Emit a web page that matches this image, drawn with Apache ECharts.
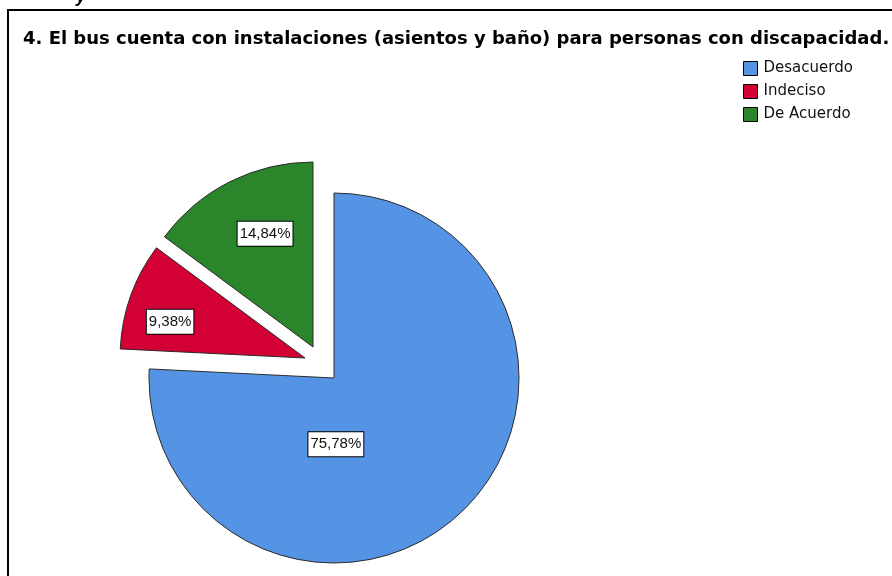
<!DOCTYPE html>
<html>
<head>
<meta charset="utf-8">
<title>El bus cuenta con instalaciones para personas con discapacidad</title>
<script src="https://cdn.jsdelivr.net/npm/echarts@6/dist/echarts.min.js"></script>
<style>
  html, body { margin: 0; padding: 0; background: #ffffff; }
  #chart { width: 892px; height: 576px; }
</style>
</head>
<body>
<div id="chart"></div>
<script>
// Survey answers and their share of responses (%)
const categories = ['Desacuerdo', 'Indeciso', 'De Acuerdo'];
const percentages = [75.78, 9.38, 14.84];
const chartTitle = '4. El bus cuenta con instalaciones (asientos y baño) para personas con discapacidad.';

// Styling
const sliceColors = ['#5594E5', '#D30035', '#2A852B'];
const fontFamily = '"Liberation Sans", Arial, sans-serif';
const wideFont = '"DejaVu Sans", Verdana, sans-serif';
// Each slice is drawn from its own pie so the two smaller ones can be pulled out
const sliceCenters = [[334, 378], [305, 358], [313, 347]];
const labelOffsets = [[-64, -3], [-45, -4], [-5, -28]];
const pieRadius = 185;

const chart = echarts.init(document.getElementById('chart'), null, { renderer: 'canvas' });

function formatPct(v) {
  return v.toFixed(2).replace('.', ',') + '%';
}

const series = categories.map(function (_, shown) {
  return {
    type: 'pie',
    center: sliceCenters[shown],
    radius: pieRadius,
    startAngle: 90,
    clockwise: true,
    avoidLabelOverlap: false,
    silent: true,
    animation: false,
    emphasis: { disabled: true },
    data: categories.map(function (name, i) {
      const visible = i === shown;
      return {
        name: name,
        value: percentages[i],
        itemStyle: visible
          ? { color: sliceColors[i], borderColor: '#2b2b2b', borderWidth: 1 }
          : { color: 'rgba(0,0,0,0)', borderWidth: 0 },
        label: visible
          ? {
              show: true,
              position: 'inside',
              offset: labelOffsets[i],
              formatter: function (p) { return formatPct(p.value); },
              color: '#111',
              fontSize: 15,
              fontFamily: fontFamily,
              backgroundColor: '#ffffff',
              borderColor: '#000000',
              borderWidth: 1,
              padding: [5, 2, 4, 2]
            }
          : { show: false },
        labelLine: { show: false }
      };
    })
  };
});

chart.setOption({
  backgroundColor: '#ffffff',
  animation: false,
  title: {
    text: chartTitle,
    left: 23,
    top: 29,
    padding: 0,
    textStyle: {
      fontFamily: wideFont,
      fontSize: 18,
      fontWeight: 'bold',
      color: '#000',
      lineHeight: 20
    }
  },
  legend: {
    orient: 'vertical',
    left: 743,
    top: 61,
    padding: 0,
    itemWidth: 14,
    itemHeight: 14,
    itemGap: 8,
    icon: 'rect',
    selectedMode: false,
    textStyle: { fontFamily: wideFont, fontSize: 15, color: '#111', padding: [0, 0, 0, 1] },
    data: categories.map(function (name, i) {
      return { name: name, itemStyle: { color: sliceColors[i], borderColor: '#000', borderWidth: 1 } };
    })
  },
  graphic: [
    {
      type: 'rect',
      silent: true,
      shape: { x: 8, y: 10, width: 1000, height: 800 },
      style: { fill: 'none', stroke: '#000', lineWidth: 2 }
    },
    {
      type: 'text',
      silent: true,
      x: 76,
      y: 6,
      style: {
        text: 'y',
        font: 'italic bold 18px ' + fontFamily,
        fill: '#000',
        textVerticalAlign: 'bottom'
      }
    }
  ],
  series: series
});
</script>
</body>
</html>
